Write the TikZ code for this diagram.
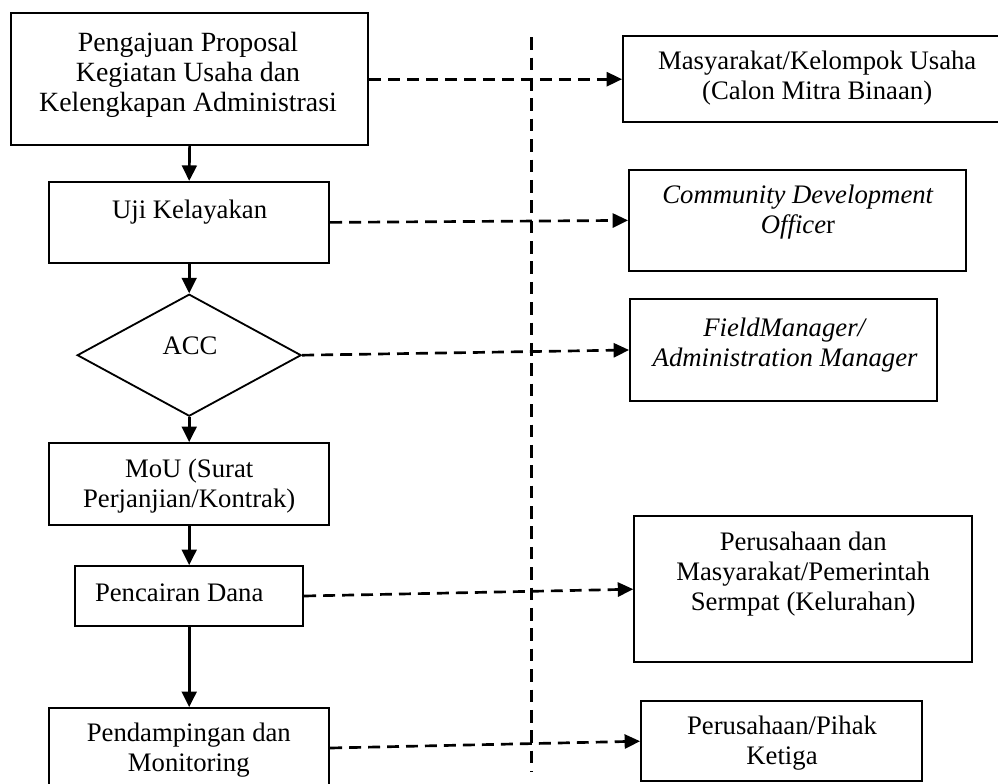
\documentclass[tikz,border=0pt]{standalone}
\usepackage{fontspec}
\setmainfont{Liberation Serif}
\usepackage{tikz}
\usetikzlibrary{arrows.meta,shapes.geometric}

\tikzset{
  box/.style={draw, line width=1.3pt, rectangle, inner sep=0pt},
  dia/.style={draw, line width=1.3pt, diamond, inner sep=0pt},
  txt/.style={align=center, inner sep=0pt, font=\fontsize{19}{21.3}\selectfont},
  flow/.style={line width=1.9pt, -{Triangle[length=11pt,width=10.5pt]}},
  link/.style={line width=1.9pt, dash pattern=on 8.5pt off 5pt, -{Triangle[length=11pt,width=10pt]}},
  sep/.style={line width=1.9pt, dash pattern=on 9pt off 5.5pt}
}

\begin{document}
\begin{tikzpicture}
  \useasboundingbox (0,0) rectangle (24.95,-19.575);

  \draw (4.74,-1.98) node[box, minimum width=8.93cm, minimum height=3.3cm] (prop) {};
  \draw (4.73,-5.56) node[box, minimum width=7cm, minimum height=2.03cm] (uji) {};
  \draw (4.73,-8.88) node[dia, minimum width=5.6cm, minimum height=3.05cm] (acc) {};
  \draw (4.73,-12.1) node[box, minimum width=7cm, minimum height=2.05cm] (mou) {};
  \draw (4.73,-14.9) node[box, minimum width=5.7cm, minimum height=1.5cm] (dana) {};
  \draw (4.73,-18.7) node[box, minimum width=7cm, minimum height=2cm] (pend) {};

  \draw (4.7,-1.88) node[txt, font=\fontsize{19.8}{21.3}\selectfont] (propT) {Pengajuan Proposal\\Kegiatan Usaha dan\\Kelengkapan Administrasi};
  \draw (4.74,-5.3) node[txt] (ujiT) {Uji Kelayakan};
  \draw (4.75,-8.65) node[txt] (accT) {ACC};
  \draw (4.73,-12.15) node[txt] (mouT) {MoU (Surat\\Perjanjian/Kontrak)};
  \draw (4.48,-14.83) node[txt] (danaT) {Pencairan Dana};
  \draw (4.72,-18.76) node[txt] (pendT) {Pendampingan dan\\Monitoring};

  \draw (20.35,-1.98) node[box, minimum width=9.55cm, minimum height=2.15cm] (masy) {};
  \draw (19.94,-5.51) node[box, minimum width=8.43cm, minimum height=2.53cm] (cdo) {};
  \draw (19.59,-8.75) node[box, minimum width=7.68cm, minimum height=2.55cm] (fm) {};
  \draw (20.08,-14.73) node[box, minimum width=8.45cm, minimum height=3.65cm] (pers) {};
  \draw (19.54,-18.53) node[box, minimum width=7.03cm, minimum height=2cm] (pihak) {};

  \draw (20.43,-1.95) node[txt] (masyT) {Masyarakat/Kelompok Usaha\\(Calon Mitra Binaan)};
  \draw (19.95,-5.31) node[txt] (cdoT) {\textit{Community Development}\\\textit{Office}r};
  \draw (19.63,-8.63) node[txt] (fmT) {\textit{FieldManager/}\\\textit{Administration Manager}};
  \draw (20.08,-14.35) node[txt] (persT) {Perusahaan dan\\Masyarakat/Pemerintah\\Sermpat (Kelurahan)};
  \draw (19.55,-18.58) node[txt] (pihakT) {Perusahaan/Pihak\\Ketiga};

  \coordinate (septop) at (13.29,-0.93);
  \coordinate (sepbot) at (13.29,-19.28);
  \draw[sep] (septop) -- (sepbot);

  \path[flow] (prop.south) edge (uji.north);
  \path[flow] (uji.south) edge (acc.north);
  \path[flow] (acc.south) edge (mou.north);
  \path[flow] (mou.south) edge (dana.north);
  \path[flow] (dana.south) edge (pend.north);

  \path[link] (prop.east) edge (masy.west);
  \path[link] (uji.east) edge (cdo.west);
  \path[link] (acc.east) edge (fm.west);
  \path[link] (dana.east) edge (pers.west);
  \path[link] (pend.east) edge (pihak.west);

\end{tikzpicture}
\end{document}
